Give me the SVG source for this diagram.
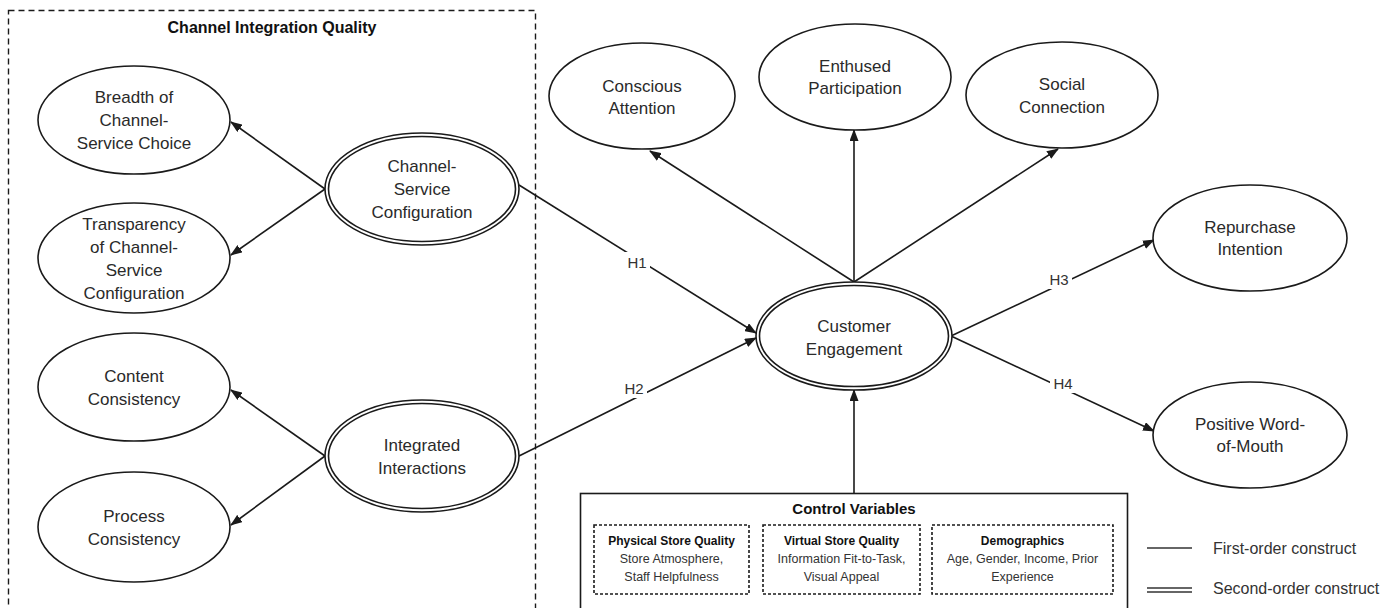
<svg xmlns="http://www.w3.org/2000/svg" width="1392" height="608" viewBox="0 0 1392 608">
<defs>
<marker id="arr" markerWidth="12" markerHeight="9" refX="11" refY="4.5" orient="auto" markerUnits="userSpaceOnUse">
<path d="M0,0 L12,4.5 L0,9 Z" fill="#1a1a1a"/>
</marker>
<style>
.e{fill:#fff;stroke:#1a1a1a;stroke-width:1.6}
.t{font-family:"Liberation Sans",Arial,sans-serif;font-size:17px;fill:#2a2a2a;text-anchor:middle}
.c{stroke:#1a1a1a;stroke-width:1.6;fill:none}
.h{font-family:"Liberation Sans",Arial,sans-serif;font-size:15px;fill:#333;text-anchor:middle}
.b{font-family:"Liberation Sans",Arial,sans-serif;font-weight:bold;fill:#111;text-anchor:middle}
.s{font-family:"Liberation Sans",Arial,sans-serif;font-size:12.5px;fill:#333;text-anchor:middle}
.l{font-family:"Liberation Sans",Arial,sans-serif;font-size:16px;fill:#333}
.d{fill:none;stroke:#1a1a1a;stroke-width:1.4;stroke-dasharray:6 4}
.dd{fill:none;stroke:#1a1a1a;stroke-width:1.6;stroke-dasharray:3 2}
</style>
</defs>
<rect width="1392" height="608" fill="#fff"/>

<g id="channel-integration-quality">
<rect class="d" x="8.5" y="10.5" width="527" height="620"/>
<text class="b" x="272" y="33" font-size="16">Channel Integration Quality</text>
</g>

<g id="control-variables">
<rect x="580.5" y="493.5" width="547" height="130" fill="#fff" stroke="#1a1a1a" stroke-width="1.6"/>
<text class="b" x="854" y="514" font-size="15">Control Variables</text>
<rect class="dd" x="594" y="525" width="155" height="69"/>
<text class="b" x="671.5" y="545" font-size="12">Physical Store Quality</text>
<text class="s" x="671.5" y="563">Store Atmosphere,</text>
<text class="s" x="671.5" y="581">Staff Helpfulness</text>
<rect class="dd" x="763" y="525" width="157" height="69"/>
<text class="b" x="841.5" y="545" font-size="12">Virtual Store Quality</text>
<text class="s" x="841.5" y="563">Information Fit-to-Task,</text>
<text class="s" x="841.5" y="581">Visual Appeal</text>
<rect class="dd" x="932" y="525" width="181" height="69"/>
<text class="b" x="1022.5" y="545" font-size="12">Demographics</text>
<text class="s" x="1022.5" y="563">Age, Gender, Income, Prior</text>
<text class="s" x="1022.5" y="581">Experience</text>
</g>

<g id="connectors">
<line class="c" x1="325" y1="189" x2="231" y2="122" marker-end="url(#arr)"/>
<line class="c" x1="325" y1="189" x2="231" y2="255" marker-end="url(#arr)"/>
<line class="c" x1="325" y1="456" x2="231" y2="390" marker-end="url(#arr)"/>
<line class="c" x1="325" y1="456" x2="231" y2="525" marker-end="url(#arr)"/>
<line class="c" x1="519" y1="185" x2="756" y2="333" marker-end="url(#arr)"/>
<line class="c" x1="519" y1="456" x2="756" y2="338" marker-end="url(#arr)"/>
<line class="c" x1="854" y1="282" x2="650" y2="151" marker-end="url(#arr)"/>
<line class="c" x1="854" y1="282" x2="854" y2="130" marker-end="url(#arr)"/>
<line class="c" x1="854" y1="282" x2="1058" y2="149" marker-end="url(#arr)"/>
<line class="c" x1="951" y1="336" x2="1154" y2="240" marker-end="url(#arr)"/>
<line class="c" x1="951" y1="336" x2="1154" y2="431" marker-end="url(#arr)"/>
<line class="c" x1="854" y1="493" x2="854" y2="390" marker-end="url(#arr)"/>
<rect x="624" y="252" width="26" height="20" fill="#fff"/>
<text class="h" x="637" y="268">H1</text>
<rect x="621" y="378" width="26" height="20" fill="#fff"/>
<text class="h" x="634" y="394">H2</text>
<rect x="1046" y="269" width="26" height="20" fill="#fff"/>
<text class="h" x="1059" y="285">H3</text>
<rect x="1050" y="373" width="26" height="20" fill="#fff"/>
<text class="h" x="1063" y="389">H4</text>
</g>

<g id="breadth">
<ellipse class="e" cx="134" cy="120" rx="96" ry="54"/>
<text class="t" x="134" y="103">Breadth of</text>
<text class="t" x="134" y="126">Channel-</text>
<text class="t" x="134" y="149">Service Choice</text>
</g>
<g id="transparency">
<ellipse class="e" cx="134" cy="258" rx="96" ry="55"/>
<text class="t" x="134" y="230">Transparency</text>
<text class="t" x="134" y="253">of Channel-</text>
<text class="t" x="134" y="276">Service</text>
<text class="t" x="134" y="299">Configuration</text>
</g>
<g id="content-consistency">
<ellipse class="e" cx="134" cy="387" rx="96" ry="54"/>
<text class="t" x="134" y="382">Content</text>
<text class="t" x="134" y="405">Consistency</text>
</g>
<g id="process-consistency">
<ellipse class="e" cx="134" cy="527" rx="96" ry="55"/>
<text class="t" x="134" y="522">Process</text>
<text class="t" x="134" y="545">Consistency</text>
</g>
<g id="channel-service-configuration">
<ellipse class="e" cx="422" cy="189" rx="97" ry="56"/>
<ellipse class="e" cx="422" cy="189" rx="93.5" ry="52.5"/>
<text class="t" x="422" y="172">Channel-</text>
<text class="t" x="422" y="195">Service</text>
<text class="t" x="422" y="218">Configuration</text>
</g>
<g id="integrated-interactions">
<ellipse class="e" cx="422" cy="456" rx="97" ry="56"/>
<ellipse class="e" cx="422" cy="456" rx="93.5" ry="52.5"/>
<text class="t" x="422" y="451">Integrated</text>
<text class="t" x="422" y="474">Interactions</text>
</g>
<g id="customer-engagement">
<ellipse class="e" cx="854" cy="336" rx="98" ry="54"/>
<ellipse class="e" cx="854" cy="336" rx="94.5" ry="50.5"/>
<text class="t" x="854" y="332">Customer</text>
<text class="t" x="854" y="355">Engagement</text>
</g>
<g id="conscious-attention">
<ellipse class="e" cx="642" cy="96" rx="93" ry="53"/>
<text class="t" x="642" y="92">Conscious</text>
<text class="t" x="642" y="114">Attention</text>
</g>
<g id="enthused-participation">
<ellipse class="e" cx="855" cy="77" rx="96" ry="53"/>
<text class="t" x="855" y="72">Enthused</text>
<text class="t" x="855" y="94">Participation</text>
</g>
<g id="social-connection">
<ellipse class="e" cx="1062" cy="95" rx="96" ry="53"/>
<text class="t" x="1062" y="90">Social</text>
<text class="t" x="1062" y="113">Connection</text>
</g>
<g id="repurchase-intention">
<ellipse class="e" cx="1250" cy="238" rx="97" ry="53"/>
<text class="t" x="1250" y="233">Repurchase</text>
<text class="t" x="1250" y="255">Intention</text>
</g>
<g id="positive-word-of-mouth">
<ellipse class="e" cx="1250" cy="435" rx="97" ry="53"/>
<text class="t" x="1250" y="430">Positive Word-</text>
<text class="t" x="1250" y="452">of-Mouth</text>
</g>

<g id="legend">
<line x1="1147" y1="548" x2="1192" y2="548" stroke="#333" stroke-width="1.6"/>
<text class="l" x="1213" y="554">First-order construct</text>
<line x1="1147" y1="588" x2="1192" y2="588" stroke="#333" stroke-width="1.4"/>
<line x1="1147" y1="592" x2="1192" y2="592" stroke="#333" stroke-width="1.4"/>
<text class="l" x="1213" y="594">Second-order construct</text>
</g>
</svg>
